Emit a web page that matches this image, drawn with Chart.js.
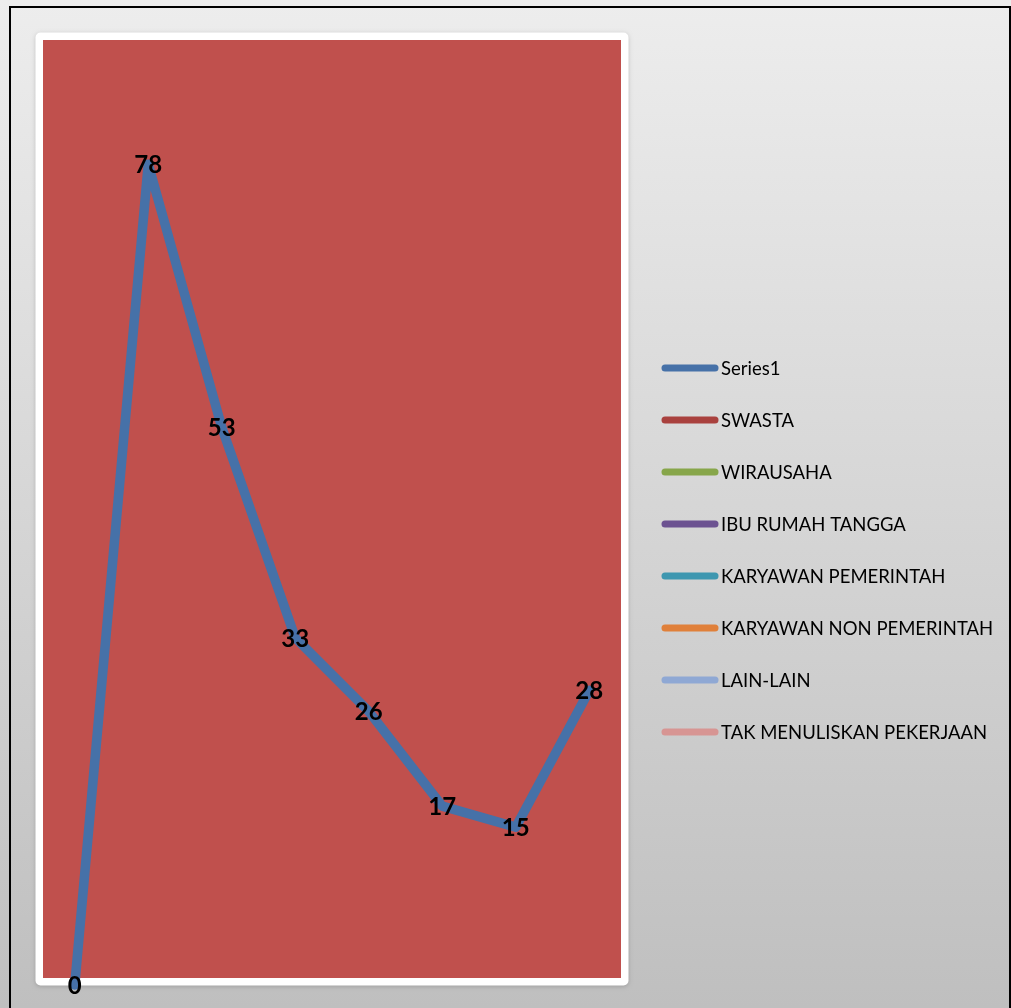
<!DOCTYPE html>
<html>
<head>
<meta charset="utf-8">
<style>
  html, body { margin: 0; padding: 0; background: #ffffff; }
  #wrap { width: 1011px; height: 1008px; position: relative; }
</style>
<script src="https://cdn.jsdelivr.net/npm/chart.js@4.4.1/dist/chart.umd.min.js"></script>
</head>
<body>
<div id="wrap"><canvas id="chart" width="1011" height="1008"></canvas></div>
<script>
// Categories along the x axis (not labelled on the chart)
const categories = ['1', '2', '3', '4', '5', '6', '7', '8'];

// Plotted series
const series1 = [0, 78, 53, 33, 26, 17, 15, 28];

// Legend entries and their colours
const seriesNames = [
  'Series1',
  'SWASTA',
  'WIRAUSAHA',
  'IBU RUMAH TANGGA',
  'KARYAWAN PEMERINTAH',
  'KARYAWAN NON PEMERINTAH',
  'LAIN-LAIN',
  'TAK MENULISKAN PEKERJAAN'
];
const seriesColors = [
  '#4671a8', '#a9413e', '#87a64a', '#6c5291',
  '#3d97b0', '#e0803a', '#8fa8d4', '#d79593'
];

// Y axis range
const yMin = 0;
const yMax = 90;

const FONT = 'Lato, "Open Sans", "Liberation Sans", sans-serif';

const datasets = seriesNames.map((name, i) => ({
  label: name,
  data: i === 0 ? series1 : [],
  borderColor: seriesColors[i],
  backgroundColor: seriesColors[i],
  borderWidth: 9.5,
  borderJoinStyle: 'round',
  borderCapStyle: 'round',
  pointRadius: 0,
  pointHoverRadius: 0,
  tension: 0,
  clip: false
}));

// Frame, gradient background and the red plot panel
const backdrop = {
  id: 'backdrop',
  beforeDraw(chart) {
    const { ctx, width, height, chartArea: a } = chart;
    ctx.save();
    const g = ctx.createLinearGradient(0, 0, 0, height);
    g.addColorStop(0, '#ededed');
    g.addColorStop(1, '#bfbfbf');
    ctx.fillStyle = g;
    ctx.fillRect(0, 0, width, height);

    ctx.strokeStyle = '#000000';
    ctx.lineWidth = 2;
    ctx.beginPath();
    ctx.moveTo(10, height + 5);
    ctx.lineTo(10, 7);
    ctx.lineTo(width - 1, 7);
    ctx.lineTo(width - 1, height + 5);
    ctx.stroke();

    // panel edges relative to the chart area
    const px0 = a.left + 5, px1 = a.right - 5;
    const py0 = a.top + 2, py1 = a.bottom - 7;
    const pad = 7.5;

    ctx.shadowColor = 'rgba(0,0,0,0.18)';
    ctx.shadowBlur = 4;
    ctx.shadowOffsetY = 1;
    ctx.fillStyle = '#ffffff';
    ctx.beginPath();
    ctx.roundRect(px0 - pad, py0 - pad, (px1 - px0) + pad * 2, (py1 - py0) + pad * 2, 5);
    ctx.fill();
    ctx.shadowColor = 'transparent';

    ctx.fillStyle = '#c0504d';
    ctx.fillRect(px0, py0, px1 - px0, py1 - py0);
    ctx.restore();
  }
};

// Value labels centred on each point
const valueLabels = {
  id: 'valueLabels',
  afterDatasetsDraw(chart) {
    const { ctx } = chart;
    const meta = chart.getDatasetMeta(0);
    const values = chart.data.datasets[0].data;
    ctx.save();
    ctx.font = 'bold 24px ' + FONT;
    ctx.fillStyle = '#000000';
    ctx.textAlign = 'center';
    ctx.textBaseline = 'middle';
    meta.data.forEach((pt, i) => {
      ctx.fillText(String(values[i]), pt.x, pt.y + 1);
    });
    ctx.restore();
  }
};

// Legend on the right: line sample followed by the series name
const sideLegend = {
  id: 'sideLegend',
  afterDraw(chart) {
    const { ctx } = chart;
    const x0 = 665, x1 = 715, yStart = 368, step = 52;
    ctx.save();
    ctx.font = '18.5px ' + FONT;
    ctx.textBaseline = 'middle';
    ctx.textAlign = 'left';
    chart.data.datasets.forEach((ds, i) => {
      const y = yStart + i * step;
      ctx.strokeStyle = ds.borderColor;
      ctx.lineWidth = 7;
      ctx.lineCap = 'round';
      ctx.beginPath();
      ctx.moveTo(x0, y);
      ctx.lineTo(x1, y);
      ctx.stroke();
      ctx.fillStyle = '#000000';
      ctx.fillText(ds.label, 721, y + 1);
    });
    ctx.restore();
  }
};

new Chart(document.getElementById('chart'), {
  type: 'line',
  data: { labels: categories, datasets },
  options: {
    responsive: false,
    animation: false,
    events: [],
    layout: { padding: { left: 38, top: 38, right: 385, bottom: 23 } },
    scales: {
      x: { type: 'category', offset: true, display: false },
      y: { min: yMin, max: yMax, display: false }
    },
    plugins: {
      legend: { display: false },
      tooltip: { enabled: false }
    }
  },
  plugins: [backdrop, valueLabels, sideLegend]
});
</script>
</body>
</html>
